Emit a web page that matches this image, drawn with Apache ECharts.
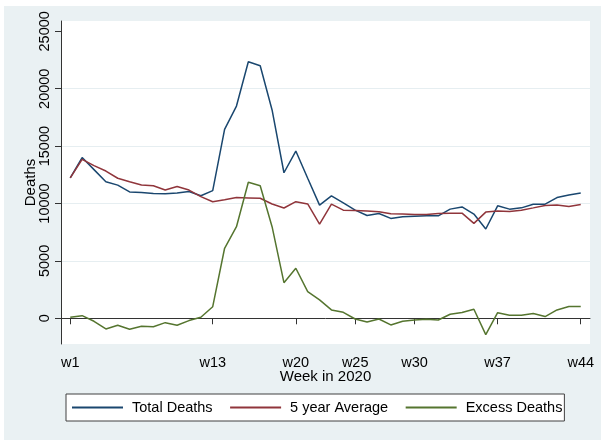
<!DOCTYPE html>
<html>
<head>
<meta charset="utf-8">
<script src="https://cdn.jsdelivr.net/npm/echarts@6/dist/echarts.min.js"></script>
<style>
  html, body { margin: 0; padding: 0; background: #fff; }
  #chart { width: 601px; height: 440px; }
</style>
</head>
<body>
<div id="chart"></div>
<script>
// week numbers 1..44
const weeks = [1, 2, 3, 4, 5, 6, 7, 8, 9, 10, 11, 12, 13, 14, 15, 16, 17, 18, 19, 20, 21, 22,
  23, 24, 25, 26, 27, 28, 29, 30, 31, 32, 33, 34, 35, 36, 37, 38, 39, 40, 41, 42, 43, 44];

const totalDeaths = [12230, 14000, 12950, 11900, 11600, 11010, 10950, 10870, 10840, 10920, 11040,
  10680, 11120, 16460, 18490, 22350, 22000, 18150, 12680, 14570, 12200, 9860, 10670, 10060, 9420,
  8960, 9130, 8700, 8850, 8900, 8930, 8930, 9510, 9700, 9080, 7780, 9800, 9510, 9620, 9940, 9940,
  10520, 10750, 10920];

const avgDeaths = [12230, 13850, 13300, 12830, 12200, 11900, 11620, 11540, 11170, 11480, 11170,
  10600, 10150, 10320, 10520, 10490, 10460, 9960, 9610, 10160, 9960, 8200, 9940, 9420, 9390,
  9340, 9280, 9100, 9080, 9050, 9050, 9130, 9160, 9160, 8270, 9250, 9340, 9310, 9420, 9620, 9830,
  9860, 9740, 9910];

const excessDeaths = [90, 230, -260, -930, -610, -960, -700, -730, -380, -610, -200, 90, 1010,
  6100, 7980, 11850, 11550, 7980, 3100, 4360, 2320, 1600, 730, 520, -60, -320, -60, -580, -260,
  -150, -90, -150, 350, 500, 790, -1420, 490, 260, 260, 410, 150, 730, 1020, 1020];

// labelled ticks
const xTicks = [1, 13, 20, 25, 30, 37, 44];
const yTicks = [0, 5000, 10000, 15000, 20000, 25000];

const font = "'Liberation Sans', Arial, sans-serif";
const pair = (arr) => weeks.map((w, i) => [w, arr[i]]);

let myChart = echarts.init(document.getElementById("chart"));

let option = {
  animation: false,
  backgroundColor: "#fff",
  textStyle: { fontFamily: font },
  graphic: [
    {
      type: "rect",
      z: -100,
      shape: { x: 4, y: 6, width: 597, height: 434 },
      style: { fill: "#eaf1f3" },
    },
  ],
  grid: {
    show: true,
    left: 61,
    right: 11,
    top: 21,
    bottom: 96,
    backgroundColor: "#fff",
    borderWidth: 0,
  },
  legend: {
    left: 66,
    top: 394,
    orient: "horizontal",
    backgroundColor: "#fff",
    borderColor: "#404040",
    borderWidth: 1,
    padding: [6, 2, 6, 6],
    icon: "rect",
    itemWidth: 51,
    itemHeight: 2,
    itemGap: 17.5,
    textStyle: {
      fontFamily: font,
      fontSize: 14.5,
      color: "#000",
      padding: [0, 0, 0, 4],
    },
    data: ["Total Deaths", "5 year Average", "Excess Deaths"],
  },
  xAxis: {
    type: "value",
    min: 0.22,
    max: 44.78,
    name: "Week in 2020",
    nameLocation: "middle",
    nameGap: 25,
    nameMoveOverlap: false,
    nameTextStyle: { fontFamily: font, fontSize: 15, color: "#000" },
    axisLine: { show: true, lineStyle: { color: "#333", width: 1 } },
    axisTick: { show: true, length: 6, customValues: xTicks, lineStyle: { color: "#333" } },
    axisLabel: {
      customValues: xTicks,
      formatter: (v) => "w" + v,
      fontFamily: font,
      fontSize: 14.5,
      color: "#000",
      margin: 11,
    },
    splitLine: { show: false },
  },
  yAxis: {
    type: "value",
    min: -2240,
    max: 25900,
    name: "Deaths",
    nameLocation: "middle",
    nameGap: 23,
    nameMoveOverlap: false,
    nameTextStyle: { fontFamily: font, fontSize: 15, color: "#000" },
    axisLine: { show: true, lineStyle: { color: "#333", width: 1 } },
    axisTick: { show: true, length: 6, customValues: yTicks, lineStyle: { color: "#333" } },
    axisLabel: {
      customValues: yTicks,
      formatter: (v) => String(v),
      rotate: 90,
      fontFamily: font,
      fontSize: 14.5,
      color: "#000",
      margin: 9,
    },
    splitLine: {
      show: true,
      showMinLine: false,
      showMaxLine: false,
      lineStyle: { color: "#e6eef1", width: 1.2 },
    },
  },
  series: [
    {
      name: "Total Deaths",
      type: "line",
      symbol: "none",
      data: pair(totalDeaths),
      lineStyle: { color: "#1a476f", width: 1.5 },
      itemStyle: { color: "#1a476f" },
    },
    {
      name: "5 year Average",
      type: "line",
      symbol: "none",
      data: pair(avgDeaths),
      lineStyle: { color: "#90353b", width: 1.5 },
      itemStyle: { color: "#90353b" },
    },
    {
      name: "Excess Deaths",
      type: "line",
      symbol: "none",
      data: pair(excessDeaths),
      lineStyle: { color: "#55752f", width: 1.5 },
      itemStyle: { color: "#55752f" },
    },
  ],
};

myChart.setOption(option, true);
</script>
</body>
</html>
